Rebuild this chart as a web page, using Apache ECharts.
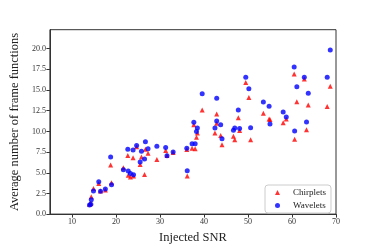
<!DOCTYPE html>
<html><head><meta charset="utf-8">
<script src="https://cdn.jsdelivr.net/npm/echarts@6/dist/echarts.min.js"></script>
<style>html,body{margin:0;padding:0;background:#fff}#c{width:374px;height:249px}</style>
</head><body><div id="c"></div>
<script>
const snr = [14.0,14.3,14.4,14.9,16.1,16.5,17.6,18.8,19.0,21.7,22.7,22.8,23.3,23.9,24.0,24.7,25.5,25.8,26.5,26.7,27.3,29.3,31.3,31.6,33.0,36.1,36.2,37.3,37.7,38.0,38.3,38.5,39.6,42.5,42.9,42.9,43.8,44.1,46.7,47.0,47.8,48.1,49.5,50.2,50.6,53.5,54.8,55.0,58.0,58.7,60.5,60.6,61.1,62.8,63.3,63.7,68.0,68.7];
const chirplets = [1.2,1.3,2.1,3.1,3.7,2.8,2.9,5.95,3.8,5.6,7.1,4.7,4.5,6.8,4.6,8.15,6.0,6.9,4.8,7.85,7.35,6.6,7.7,7.1,7.45,7.8,4.6,7.95,10.8,7.9,9.3,9.8,12.6,9.8,12.1,11.0,9.5,8.4,9.4,9.0,11.65,10.1,15.9,14.1,9.0,12.2,11.5,11.45,11.05,11.5,16.95,9.05,13.6,16.35,10.2,13.2,13.0,15.45];
const wavelets = [1.1,1.2,1.75,2.8,3.9,2.75,3.05,6.9,3.55,5.35,7.85,5.2,4.9,7.75,4.75,8.3,6.3,7.6,6.65,8.75,7.9,8.2,8.05,7.05,7.5,7.95,5.25,8.5,11.1,8.5,10.0,10.4,14.55,10.4,14.0,11.25,10.8,9.1,10.15,10.4,12.6,10.35,16.55,15.15,10.45,13.55,13.05,10.9,12.35,11.75,17.8,10.05,15.4,16.55,11.15,14.6,16.55,19.85];
const xTicks = [10,20,30,40,50,60,70];
const yTicks = [0,2.5,5,7.5,10,12.5,15,17.5,20];
const seriesNames = ['Chirplets','Wavelets'];

const font = 'Liberation Serif';
const chart = echarts.init(document.getElementById('c'), null, {renderer:'canvas'});
chart.setOption({
  animation:false,
  backgroundColor:'#fff',
  grid:{left:46.7,right:38,top:29.7,bottom:31.3,show:true,borderColor:'#333',borderWidth:1},
  xAxis:{type:'value',min:5,max:70,
    name:'Injected SNR',nameLocation:'middle',nameGap:16,
    nameTextStyle:{fontFamily:font,fontSize:12.5,color:'#222'},
    axisLine:{lineStyle:{color:'#333',width:1}},
    axisTick:{show:true,inside:false,length:3.5,customValues:xTicks,lineStyle:{color:'#333'}},
    axisLabel:{customValues:xTicks,fontFamily:font,fontSize:8,color:'#333',margin:4},
    splitLine:{show:false}},
  yAxis:{type:'value',min:0,max:22.3,
    name:'Average number of frame functions',nameLocation:'middle',nameGap:28,
    nameTextStyle:{fontFamily:font,fontSize:12.5,color:'#222'},
    axisLine:{show:true,lineStyle:{color:'#333',width:1}},
    axisTick:{show:true,inside:false,length:3.5,customValues:yTicks,lineStyle:{color:'#333'}},
    axisLabel:{customValues:yTicks,formatter:v=>v.toFixed(1),fontFamily:font,fontSize:8,color:'#333',margin:4},
    splitLine:{show:false}},
  legend:{orient:'vertical',left:265,top:185,padding:[3,5,3,10],itemGap:4,
    borderColor:'#ccc',borderWidth:1,borderRadius:3,backgroundColor:'#fff',
    itemWidth:5,itemHeight:5,
    textStyle:{fontFamily:font,fontSize:9,color:'#222',padding:[0,0,0,8]},
    data:[{name:seriesNames[0],icon:'triangle'},{name:seriesNames[1],icon:'circle'}]},
  series:[
    {name:seriesNames[0],type:'scatter',symbol:'triangle',symbolSize:5,itemStyle:{color:'#ff0000'},
     data:snr.map((x,i)=>[x,chirplets[i]])},
    {name:seriesNames[1],type:'scatter',symbol:'circle',symbolSize:5,itemStyle:{color:'#0000ff'},
     data:snr.map((x,i)=>[x,wavelets[i]])}
  ]
});
</script></body></html>
